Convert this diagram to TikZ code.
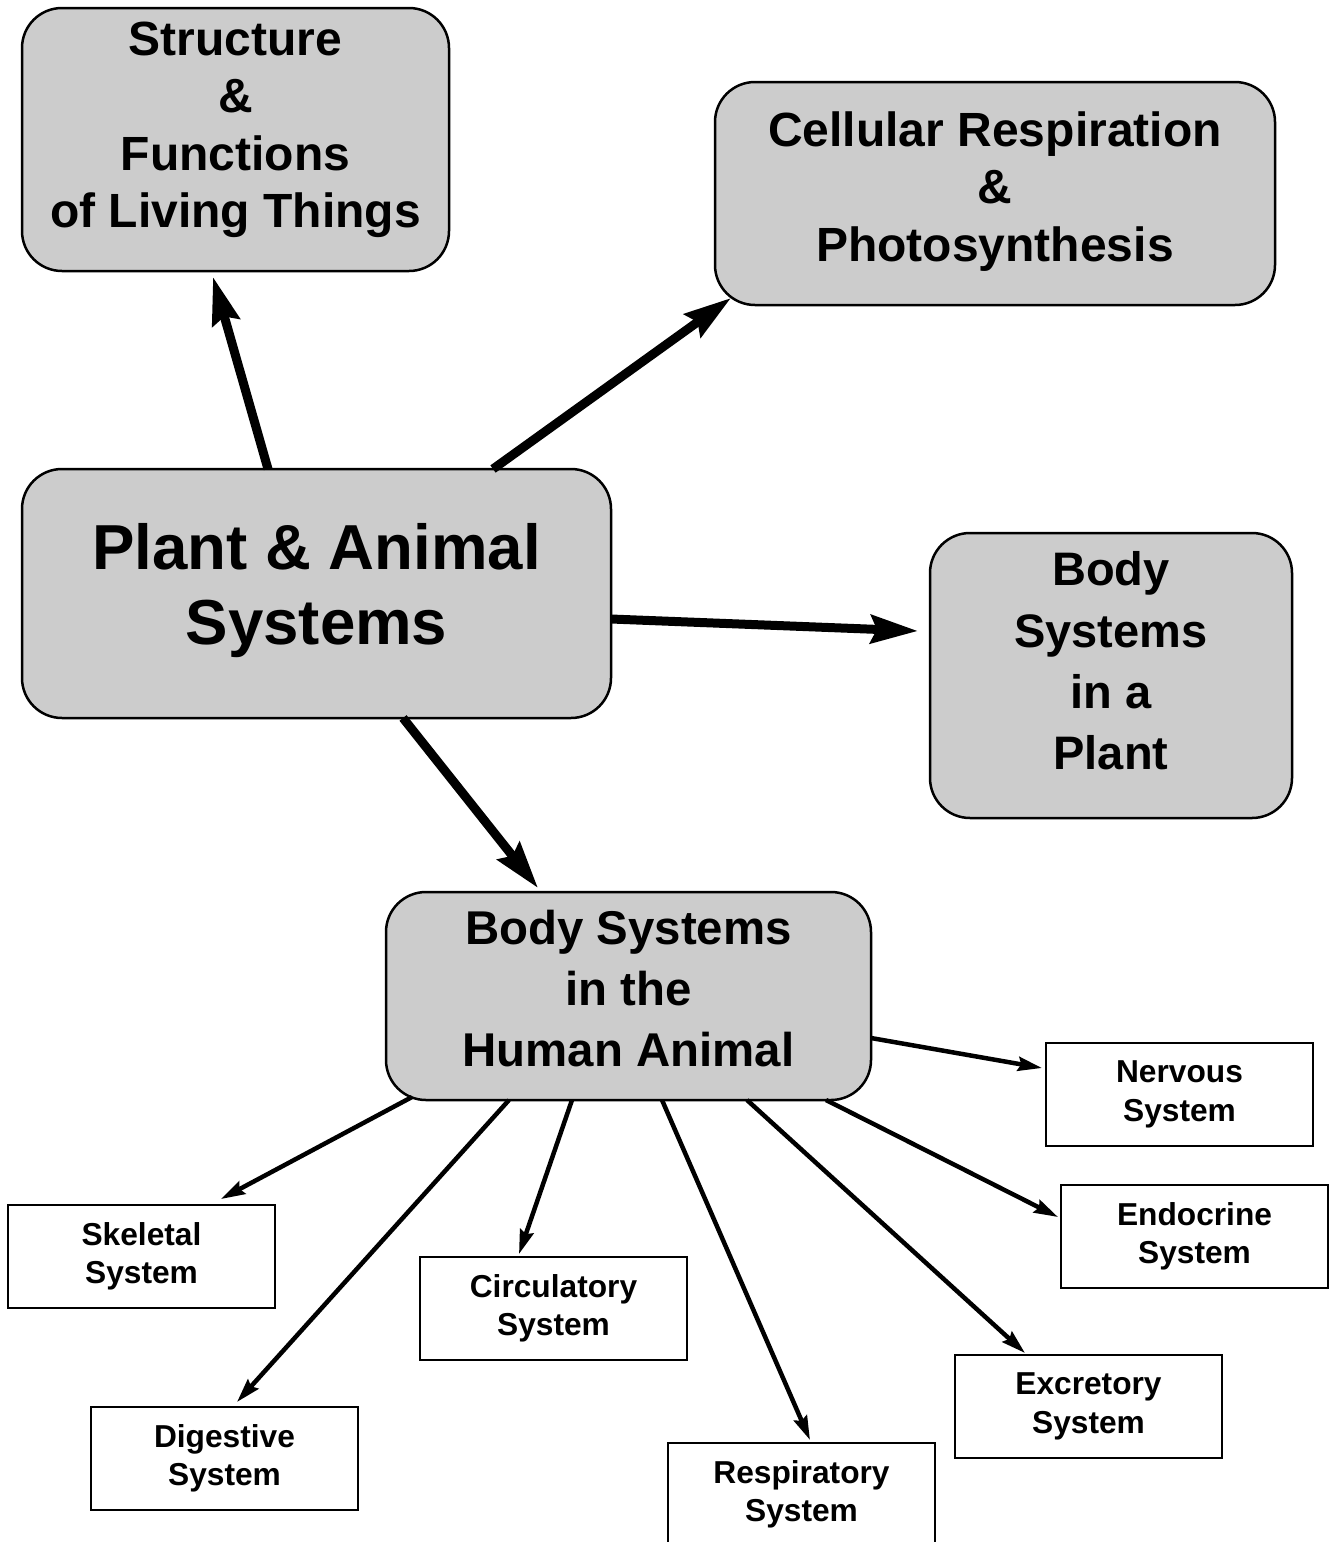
\documentclass[tikz,border=0pt]{standalone}
\usepackage{fontspec}
\setmainfont{Liberation Sans}
\usetikzlibrary{arrows.meta,calc}
\definecolor{boxgray}{RGB}{204,204,204}
\begin{document}
\begin{tikzpicture}[x=1pt,y=-1pt,
  topic/.style={draw=black,fill=boxgray,line width=2.5pt,rounded corners=40pt,
    inner sep=0pt,outer sep=0pt},
  topictext/.style={align=center,inner sep=0pt,
    font=\bfseries\fontsize{48}{57.5}\selectfont},
  system/.style={draw=black,fill=white,line width=2.5pt,minimum width=267pt,
    minimum height=103pt,inner sep=0pt,outer sep=0pt,align=center,
    font=\bfseries\fontsize{31.7}{38.5}\selectfont},
  bigarrow/.style={line width=9pt,-{Stealth[length=47pt,width=28pt,inset=6pt]}},
  smallarrow/.style={line width=4.5pt,-{Stealth[length=24pt,width=14pt,inset=3pt]}}]

\useasboundingbox (0,0) rectangle (1333,1542);
\clip (0,0) rectangle (1333,1542);

% main topic boxes
\node[topic,minimum width=427pt,minimum height=263pt] (structure) at (235.5,139.5) {};
\node[topictext] (structuretext) at (235.5,130) {Structure\\\&\\Functions\\of Living Things};

\node[topic,minimum width=560pt,minimum height=223pt] (cellular) at (995,193.5) {};
\node[topictext] (cellulartext) at (995,191.5) {Cellular Respiration\\\&\\Photosynthesis};

\node[topic,minimum width=589pt,minimum height=249pt] (plant) at (316.5,593.5) {};
\node[topictext,font=\bfseries\fontsize{63.6}{75}\selectfont] (planttext) at (316.5,591)
  {Plant \& Animal\\Systems};

\node[topic,minimum width=362pt,minimum height=285pt] (bodyplant) at (1111,675.5) {};
\node[topictext,font=\bfseries\fontsize{47}{61.3}\selectfont] (bodyplanttext) at (1111,661)
  {Body\\Systems\\in a\\Plant};

\node[topic,minimum width=485pt,minimum height=208pt] (human) at (628.5,996) {};
\node[topictext,font=\bfseries\fontsize{47.4}{61}\selectfont] (humantext) at (628.5,988.5)
  {Body Systems\\in the\\Human Animal};

% human body systems
\node[system] (nervous)     at (1179.5,1094.5) {Nervous\\System};
\node[system] (endocrine)   at (1194.5,1236.5) {Endocrine\\System};
\node[system] (excretory)   at (1088.5,1406.5) {Excretory\\System};
\node[system] (respiratory) at (801.5,1494.5)  {Respiratory\\System};
\node[system] (circulatory) at (553.5,1308.5)  {Circulatory\\System};
\node[system] (digestive)   at (224.5,1458.5)  {Digestive\\System};
\node[system] (skeletal)    at (141.5,1256.5)  {Skeletal\\System};

% arrow tips, each stopping just short of its target box
\coordinate (toStructure)   at (213,277);
\coordinate (toCellular)    at (731,298);
\coordinate (toBodyPlant)   at (918,631);
\coordinate (toHuman)       at (538,888);
\coordinate (toNervous)     at (1042,1068);
\coordinate (toEndocrine)   at (1058,1217);
\coordinate (toExcretory)   at (1025,1353);
\coordinate (toRespiratory) at (810,1440);
\coordinate (toCirculatory) at (519,1254);
\coordinate (toDigestive)   at (237,1402);
\coordinate (toSkeletal)    at (221,1199);

% connectors from the central topic
\draw[bigarrow] (268,0 |- plant.north) -- (toStructure);
\draw[bigarrow] (493,0 |- plant.north) -- (toCellular);
\draw[bigarrow] (plant.east |- 0,619) -- (toBodyPlant);
\draw[bigarrow] (403,0 |- plant.south) -- (toHuman);

% connectors to the human body systems
\draw[smallarrow] (human.east |- 0,1038) -- (toNervous);
\draw[smallarrow] (826,0 |- human.south) -- (toEndocrine);
\draw[smallarrow] (747,0 |- human.south) -- (toExcretory);
\draw[smallarrow] (662,0 |- human.south) -- (toRespiratory);
\draw[smallarrow] (572,0 |- human.south) -- (toCirculatory);
\draw[smallarrow] (509,0 |- human.south) -- (toDigestive);
\draw[smallarrow] (412,1097) -- (toSkeletal);
\end{tikzpicture}
\end{document}
